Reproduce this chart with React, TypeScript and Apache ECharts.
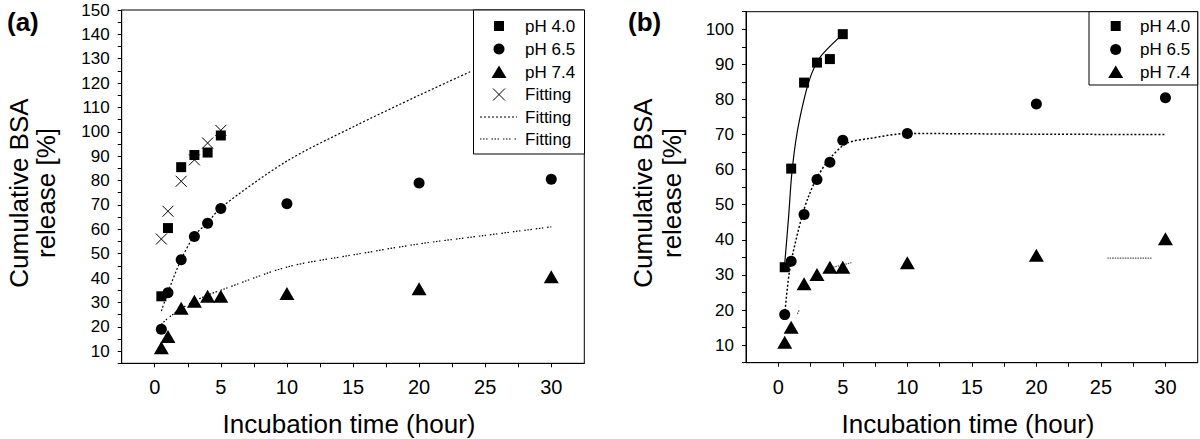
import React, { useEffect, useRef } from "react";
import * as echarts from "echarts";

// ---------- data ----------
const X_MIN = -2.5;
const X_MAX = 32.5;
const X_TICK_STEP = 2.5;
const X_LABEL_STEP = 5;
const Y_TICK_STEP = 5;
const Y_LABEL_STEP = 10;
const Y_RANGE_A = [5, 150];
const Y_RANGE_B = [5, 105];

const TIME_SHORT = [0.5, 1, 2, 3, 4, 5];
const TIME_FULL = [0.5, 1, 2, 3, 4, 5, 10, 20, 30];

// panel (a)
const A_PH40 = [32.5, 60.5, 85.5, 90.5, 91.5, 98.5];
const A_PH65 = [19, 34, 47.5, 57, 62.5, 68.5, 70.5, 79, 80.5];
const A_PH74 = [11.4, 16, 27.6, 30.5, 32.5, 32.5, 33.6, 35.6, 40.5];
const A_FIT_CROSS = [56, 67.4, 79.7, 88.5, 95.4, 100.6];
const A_FIT65_T = [0.5, 1, 2, 3, 4, 5, 10, 15, 20, 24];
const A_FIT65_V = [26.4, 34.2, 47.6, 57.4, 62.7, 68.9, 88, 102, 115, 125];
const A_FIT74_T = [0.5, 1, 2, 3, 4, 5, 10, 15, 20, 25, 30];
const A_FIT74_V = [21, 23.5, 27.5, 30.5, 33, 35, 44.5, 49.5, 54, 57.5, 61];

// panel (b)
const B_PH40 = [32.2, 60.3, 84.8, 90.5, 91.5, 98.6];
const B_PH65 = [18.7, 33.9, 47.2, 57.2, 62.1, 68.4, 70.3, 78.7, 80.5];
const B_PH74 = [10.8, 15.1, 27.5, 30.1, 32.2, 32.2, 33.5, 35.6, 40.3];
const B_FIT40_T = [0.5, 0.8, 1.05, 1.45, 2.05, 2.6, 3.2, 4, 5];
const B_FIT40_V = [33.2, 46.5, 58.9, 70.3, 80.8, 87.5, 91.8, 95.1, 98.6];
const B_FIT65_T = [0.5, 0.92, 1.82, 2.33, 3, 4, 5.3, 7.1, 10, 20, 30];
const B_FIT65_V = [18.7, 32.2, 46.5, 52.2, 57.7, 63.2, 67.5, 68.9, 70.3, 70.1, 70];
const B_FIT74_PARTS_T = [[1.48, 1.64], [4.25, 5.67], [25.5, 29]];
const B_FIT74_PARTS_V = [[18.9, 20.1], [32.2, 33.5], [34.8, 34.8]];

const zip = (t: number[], v: number[]) => t.map((x, i) => [x, v[i]]);

const FONT = "Liberation Sans, Arial, Helvetica, sans-serif";
const INK = "#000";
const CROSS = "path://M0,0L10,10M10,0L0,10";

const isMultiple = (v: number, step: number) => Math.abs(v / step - Math.round(v / step)) < 1e-6;

function xAxisFor(gridIndex: number) {
  return {
    type: "value",
    gridIndex,
    min: X_MIN,
    max: X_MAX,
    interval: X_TICK_STEP,
    position: "bottom",
    axisLine: { show: true, onZero: false, lineStyle: { color: INK, width: 1 } },
    axisTick: { show: true, length: 4, lineStyle: { color: INK } },
    axisLabel: {
      show: true,
      margin: 14,
      fontSize: 20,
      color: INK,
      fontFamily: FONT,
      showMinLabel: false,
      showMaxLabel: false,
      formatter: (v: number) => (v >= 0 && isMultiple(v, X_LABEL_STEP) ? String(v) : ""),
    },
    splitLine: { show: false },
  };
}

function yAxisFor(gridIndex: number, range: number[]) {
  return {
    type: "value",
    gridIndex,
    min: range[0],
    max: range[1],
    interval: Y_TICK_STEP,
    position: "left",
    axisLine: { show: true, onZero: false, lineStyle: { color: INK, width: 1 } },
    axisTick: { show: true, length: 4, lineStyle: { color: INK } },
    axisLabel: {
      show: true,
      margin: 12,
      fontSize: 17,
      color: INK,
      fontFamily: FONT,
      formatter: (v: number) => (isMultiple(v, Y_LABEL_STEP) ? String(v) : ""),
    },
    splitLine: { show: false },
  };
}

function scatter(name: string, gi: number, data: number[][], symbol: string, size: any, extra: any = {}) {
  return {
    name,
    type: "scatter",
    xAxisIndex: gi,
    yAxisIndex: gi,
    data,
    symbol,
    symbolSize: size,
    itemStyle: { color: INK, opacity: 1 },
    z: 5,
    ...extra,
  };
}

function line(name: string, gi: number, data: number[][], lineStyle: any) {
  return {
    name,
    type: "line",
    xAxisIndex: gi,
    yAxisIndex: gi,
    data,
    showSymbol: false,
    symbol: "none",
    smooth: 0.3,
    lineStyle: { color: INK, width: 1.2, ...lineStyle },
    z: 3,
  };
}

function legendGraphics(x0: number, y0: number, w: number, h: number, entries: { kind: string; label: string; y: number }[], symX: number, textX: number) {
  const els: any[] = [
    {
      type: "rect",
      shape: { x: x0, y: y0, width: w, height: h },
      style: { fill: "#fff", stroke: INK, lineWidth: 1 },
      z: 100,
    },
  ];
  entries.forEach((e) => {
    const y = e.y;
    if (e.kind === "square") {
      els.push({ type: "rect", shape: { x: symX - 5, y: y - 5, width: 10, height: 10 }, style: { fill: INK }, z: 101 });
    } else if (e.kind === "circle") {
      els.push({ type: "circle", shape: { cx: symX, cy: y, r: 5.5 }, style: { fill: INK }, z: 101 });
    } else if (e.kind === "triangle") {
      els.push({
        type: "polygon",
        shape: { points: [[symX - 7.5, y + 6], [symX + 7.5, y + 6], [symX, y - 6.5]] },
        style: { fill: INK },
        z: 101,
      });
    } else if (e.kind === "cross") {
      els.push({ type: "line", shape: { x1: symX - 6, y1: y - 6, x2: symX + 6, y2: y + 6 }, style: { stroke: INK, lineWidth: 1 }, z: 101 });
      els.push({ type: "line", shape: { x1: symX + 6, y1: y - 6, x2: symX - 6, y2: y + 6 }, style: { stroke: INK, lineWidth: 1 }, z: 101 });
    } else if (e.kind === "dot") {
      els.push({ type: "line", shape: { x1: symX - 19, y1: y, x2: symX + 18, y2: y }, style: { stroke: INK, lineWidth: 1.2, lineDash: [2, 2] }, z: 101 });
    } else if (e.kind === "dashdot") {
      els.push({ type: "line", shape: { x1: symX - 19, y1: y, x2: symX + 18, y2: y }, style: { stroke: INK, lineWidth: 1.2, lineDash: [1.5, 1.5, 1.5, 1.5, 1.5, 4] }, z: 101 });
    }
    els.push({
      type: "text",
      x: textX,
      y,
      style: { text: e.label, fontSize: 17, fontFamily: FONT, fill: INK, textAlign: "left", textVerticalAlign: "middle" },
      z: 101,
    });
  });
  return els;
}

export default function App() {
  const ref = useRef<HTMLDivElement>(null);

  useEffect(() => {
    if (!ref.current) return;
    const chart = echarts.init(ref.current, undefined, { renderer: "svg" });

    const triSize = [15, 13];

    const series: any[] = [
      // panel (a)
      line("Fitting dotted (a)", 0, zip(A_FIT65_T, A_FIT65_V), { type: [2, 2] }),
      line("Fitting dash-dot (a)", 0, zip(A_FIT74_T, A_FIT74_V), { type: [1.5, 1.5, 1.5, 1.5, 1.5, 4] }),
      scatter("pH 4.0 (a)", 0, zip(TIME_SHORT, A_PH40), "rect", 10),
      scatter("pH 6.5 (a)", 0, zip(TIME_FULL, A_PH65), "circle", 11),
      scatter("pH 7.4 (a)", 0, zip(TIME_FULL, A_PH74), "triangle", triSize),
      scatter("Fitting cross (a)", 0, zip(TIME_SHORT, A_FIT_CROSS), CROSS, 11, {
        itemStyle: { color: "transparent", borderColor: INK, borderWidth: 1, opacity: 1 },
      }),
      // panel (b)
      line("Fit pH 4.0 (b)", 1, zip(B_FIT40_T, B_FIT40_V), { type: "solid" }),
      line("Fit pH 6.5 (b)", 1, zip(B_FIT65_T, B_FIT65_V), { type: [2, 2], width: 1.5 }),
      ...B_FIT74_PARTS_T.map((t, i) =>
        line("Fit pH 7.4 (b) part " + (i + 1), 1, zip(t, B_FIT74_PARTS_V[i]), { type: [1.5, 1], color: "#555" })
      ),
      scatter("pH 4.0 (b)", 1, zip(TIME_SHORT, B_PH40), "rect", 10),
      scatter("pH 6.5 (b)", 1, zip(TIME_FULL, B_PH65), "circle", 11),
      scatter("pH 7.4 (b)", 1, zip(TIME_FULL, B_PH74), "triangle", triSize),
    ];

    const graphics: any[] = [
      { type: "text", x: 7, y: 22, style: { text: "(a)", fontSize: 26, fontWeight: "bold", fontFamily: FONT, fill: INK, textVerticalAlign: "middle" } },
      { type: "text", x: 628, y: 22, style: { text: "(b)", fontSize: 26, fontWeight: "bold", fontFamily: FONT, fill: INK, textVerticalAlign: "middle" } },
      { type: "text", x: 349, y: 424, style: { text: "Incubation time (hour)", fontSize: 26, fontFamily: FONT, fill: INK, textAlign: "center", textVerticalAlign: "middle" } },
      { type: "text", x: 968, y: 424, style: { text: "Incubation time (hour)", fontSize: 26, fontFamily: FONT, fill: INK, textAlign: "center", textVerticalAlign: "middle" } },
      {
        type: "text", x: 32, y: 193, rotation: Math.PI / 2,
        style: { text: "Cumulative BSA\nrelease [%]", fontSize: 26, lineHeight: 27, fontFamily: FONT, fill: INK, textAlign: "center", textVerticalAlign: "middle" },
      },
      {
        type: "text", x: 657, y: 193, rotation: Math.PI / 2,
        style: { text: "Cumulative BSA\nrelease [%]", fontSize: 26, lineHeight: 29, fontFamily: FONT, fill: INK, textAlign: "center", textVerticalAlign: "middle" },
      },
      ...legendGraphics(473.5, 10, 111, 144, [
        { kind: "square", label: "pH 4.0", y: 26 },
        { kind: "circle", label: "pH 6.5", y: 49 },
        { kind: "triangle", label: "pH 7.4", y: 72 },
        { kind: "cross", label: "Fitting", y: 94.5 },
        { kind: "dot", label: "Fitting", y: 117 },
        { kind: "dashdot", label: "Fitting", y: 139 },
      ], 499, 525),
      ...legendGraphics(1089, 11.7, 108.7, 73.3, [
        { kind: "square", label: "pH 4.0", y: 26 },
        { kind: "circle", label: "pH 6.5", y: 49.5 },
        { kind: "triangle", label: "pH 7.4", y: 72 },
      ], 1115.7, 1140),
    ];

    chart.setOption({
      animation: false,
      backgroundColor: "#fff",
      textStyle: { fontFamily: FONT },
      grid: [
        { left: 121.7, top: 10, width: 462.6, height: 353.3, show: true, borderColor: INK, borderWidth: 1, backgroundColor: "transparent" },
        { left: 746, top: 11.7, width: 451.7, height: 351, show: true, borderColor: INK, borderWidth: 1, backgroundColor: "transparent" },
      ],
      xAxis: [xAxisFor(0), xAxisFor(1)],
      yAxis: [yAxisFor(0, Y_RANGE_A), yAxisFor(1, Y_RANGE_B)],
      series,
      graphic: graphics,
    });

    return () => chart.dispose();
  }, []);

  return (
    <div
      ref={ref}
      style={{ position: "fixed", left: 0, top: 0, width: 1200, height: 439, background: "#fff" }}
    />
  );
}
